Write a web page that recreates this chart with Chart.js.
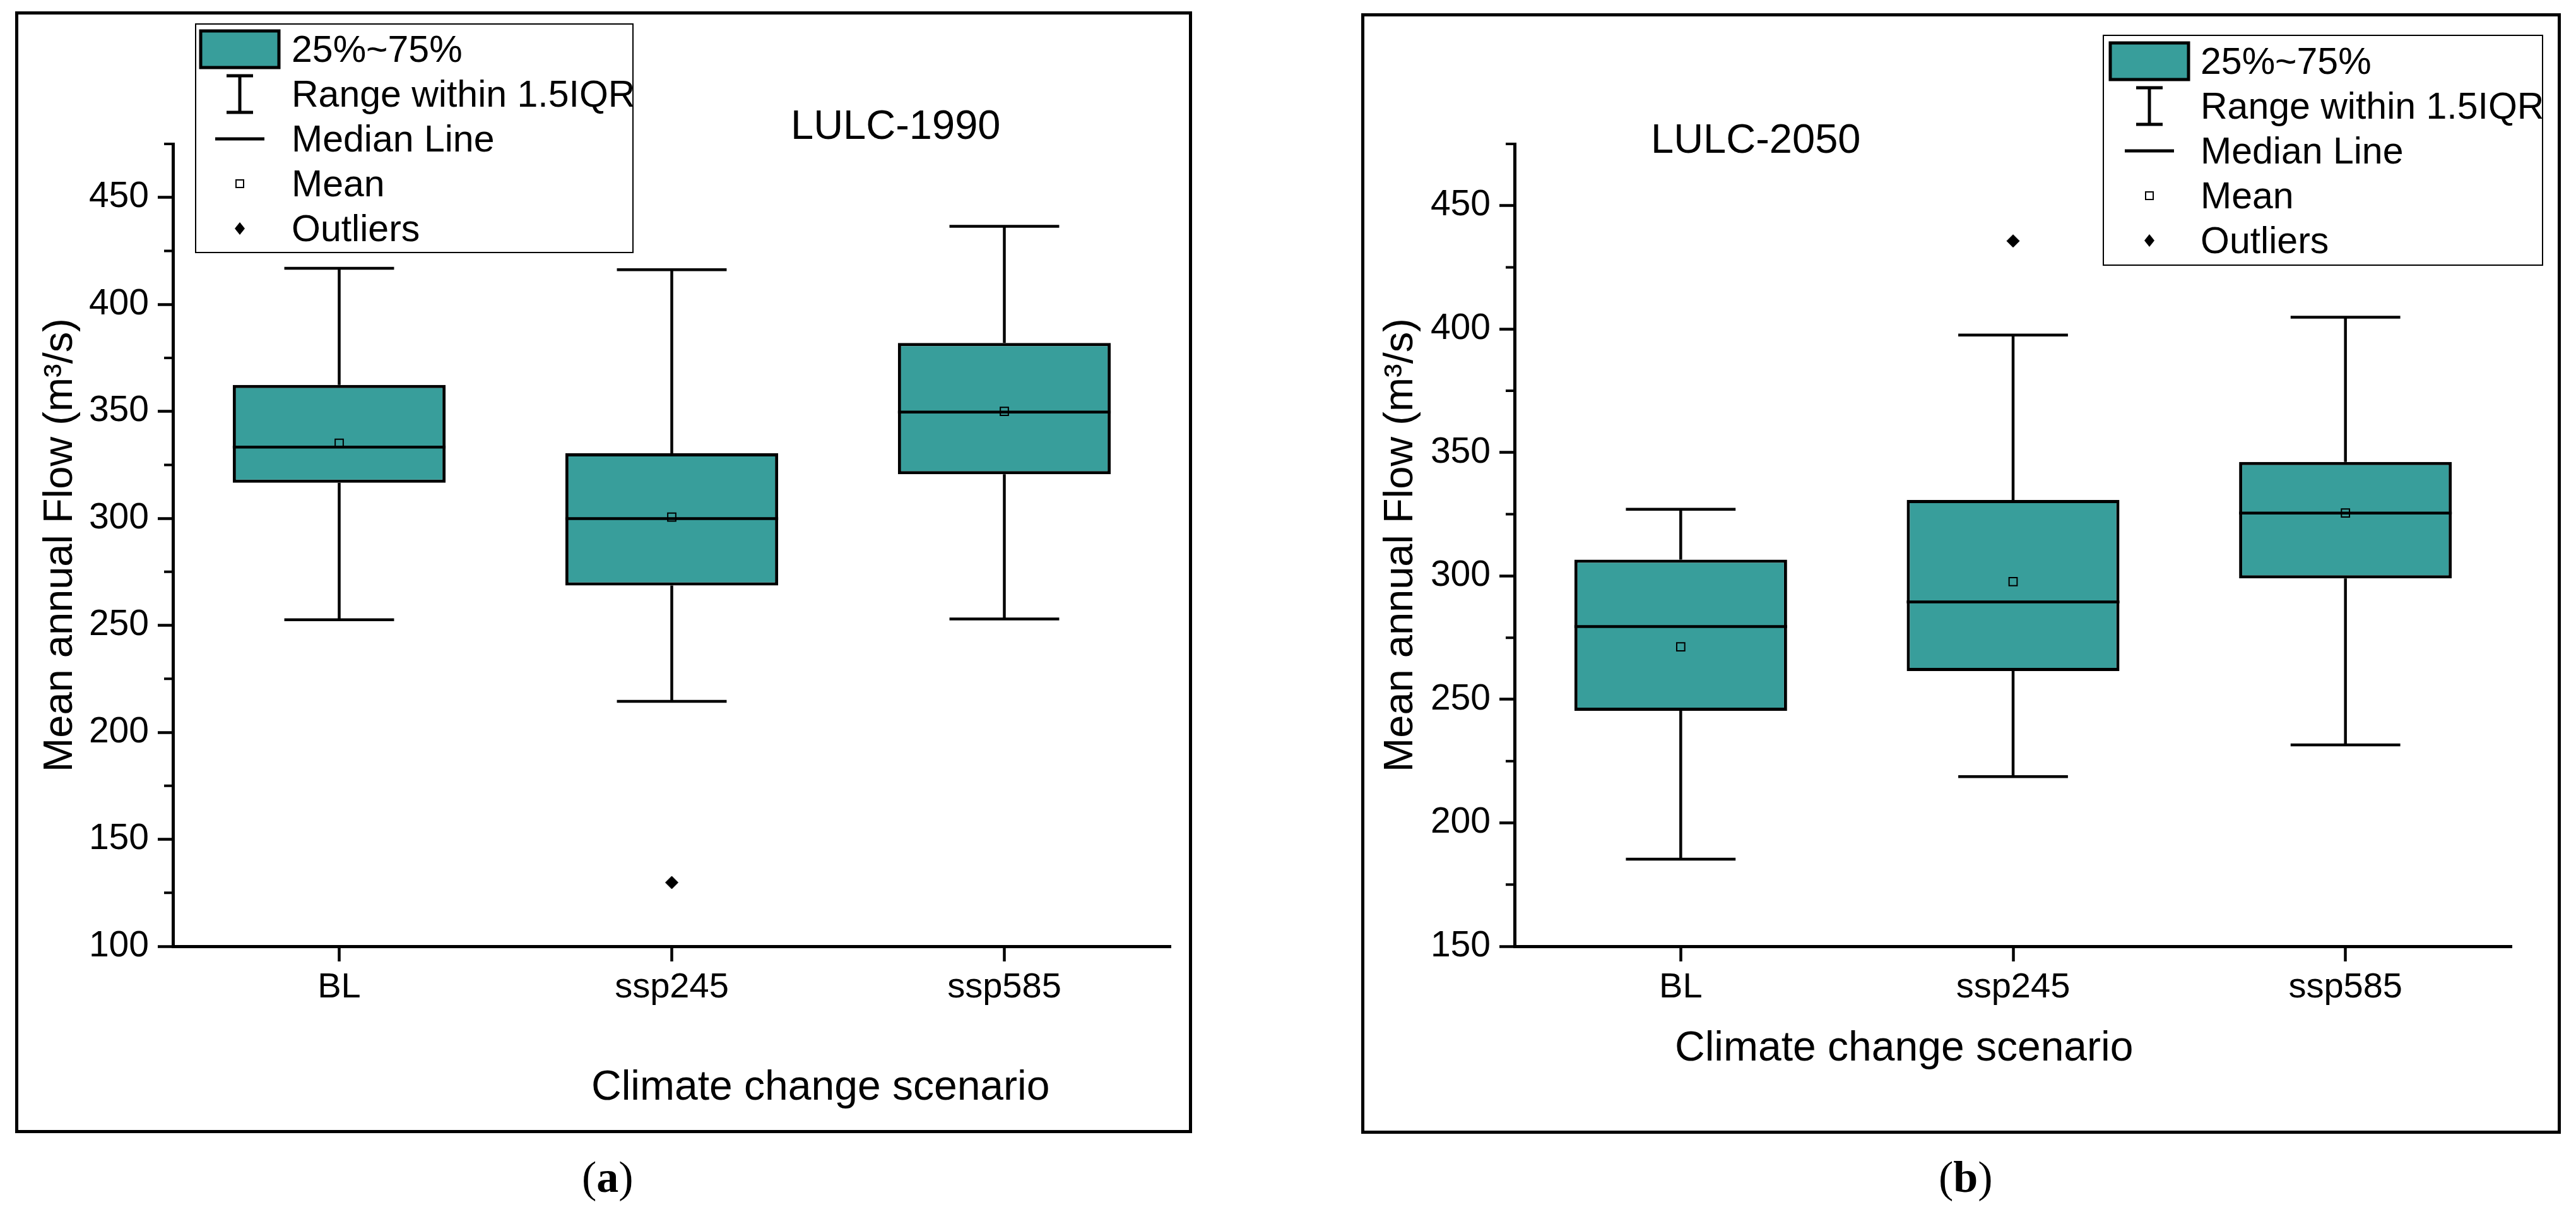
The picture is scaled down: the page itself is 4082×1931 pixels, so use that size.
<!DOCTYPE html>
<html>
<head>
<meta charset="utf-8">
<script src="https://cdn.jsdelivr.net/npm/chart.js@4.4.1/dist/chart.umd.min.js"></script>
<style>
  body { margin: 0; width: 4082px; height: 1931px; background: #fff; position: relative; overflow: hidden;
         font-family: 'Liberation Sans', Arial, sans-serif; color: #000; }
  .frame { position: absolute; border: 5px solid #000; box-sizing: border-box; }
  .holder { position: absolute; }
  .txt { position: absolute; white-space: nowrap; line-height: 1; }
  .legend { position: absolute; border: 2px solid #000; background: #fff; box-sizing: border-box; z-index: 2; }
  .legend svg { position: absolute; left: -2px; top: -2px; }
  .legend span { position: absolute; font-size: 59px; line-height: 59px; white-space: nowrap; }
  .cap { font-family: 'Liberation Serif', 'Times New Roman', serif; font-size: 70px; }
</style>
</head>
<body>
<div class="frame" style="left:24px;top:18px;width:1865px;height:1777px;"></div>
<div class="holder" style="left:28px;top:22px;width:1856px;height:1768px;"><canvas id="chart1990"></canvas></div>
<div class="frame" style="left:2157px;top:21px;width:1901px;height:1775px;"></div>
<div class="holder" style="left:2161px;top:25px;width:1892px;height:1766px;"><canvas id="chart2050"></canvas></div>

<div class="txt" style="left:1253px;top:165px;font-size:65px;">LULC-1990</div>
<div class="txt" style="left:2616px;top:187px;font-size:65px;">LULC-2050</div>
<div class="txt" style="left:937px;top:1686px;font-size:66px;">Climate change scenario</div>
<div class="txt" style="left:2654px;top:1624px;font-size:66px;">Climate change scenario</div>
<div class="txt cap" style="left:922px;top:1830px;">(<b>a</b>)</div>
<div class="txt cap" style="left:3072px;top:1830px;">(<b>b</b>)</div>

<script>
'use strict';

const categories = ['BL', 'ssp245', 'ssp585'];
const teal = '#389e9b';

// LULC-1990
const low1990 = [252.6, 214.5, 253.0];
const q1_1990 = [316.6, 268.6, 320.6];
const median1990 = [333.3, 299.9, 349.7];
const mean1990 = [335.1, 300.6, 350.0];
const q3_1990 = [362.4, 330.4, 382.0];
const high1990 = [416.9, 416.2, 436.5];
const outliers1990 = [null, 129.8, null];
const majorTicks1990 = [100, 150, 200, 250, 300, 350, 400, 450];
const minorTicks1990 = [125, 175, 225, 275, 325, 375, 425, 475];

// LULC-2050
const low2050 = [185.3, 218.7, 231.6];
const q1_2050 = [245.4, 261.5, 299.0];
const median2050 = [279.5, 289.5, 325.5];
const mean2050 = [271.3, 297.7, 325.5];
const q3_2050 = [306.6, 330.8, 346.2];
const high2050 = [327.0, 397.6, 404.8];
const outliers2050 = [null, 435.7, null];
const majorTicks2050 = [150, 200, 250, 300, 350, 400, 450];
const minorTicks2050 = [175, 225, 275, 325, 375, 425, 475];

const legendItems = ['25%~75%', 'Range within 1.5IQR', 'Median Line', 'Mean', 'Outliers'];

Chart.defaults.color = '#000';
Chart.defaults.font.family = "'Liberation Sans', Arial, sans-serif";

// whiskers, caps and median lines, drawn right after the boxes
const boxParts = {
  id: 'boxParts',
  afterDatasetDraw(chart, args, opts) {
    if (args.index !== 0) return;
    const { ctx, scales: { x, y } } = chart;
    const unit = x.getPixelForValue(1) - x.getPixelForValue(0);
    const halfBox = unit * 0.32;
    const halfCap = unit * 0.165;
    ctx.save();
    ctx.strokeStyle = '#000';
    ctx.lineWidth = 4.5;
    opts.median.forEach((m, i) => {
      const cx = x.getPixelForValue(i);
      const hi = y.getPixelForValue(opts.high[i]);
      const lo = y.getPixelForValue(opts.low[i]);
      ctx.beginPath();
      ctx.moveTo(cx, y.getPixelForValue(opts.q3[i]));
      ctx.lineTo(cx, hi);
      ctx.moveTo(cx, y.getPixelForValue(opts.q1[i]));
      ctx.lineTo(cx, lo);
      ctx.moveTo(cx - halfCap, hi);
      ctx.lineTo(cx + halfCap, hi);
      ctx.moveTo(cx - halfCap, lo);
      ctx.lineTo(cx + halfCap, lo);
      ctx.moveTo(cx - halfBox, y.getPixelForValue(m));
      ctx.lineTo(cx + halfBox, y.getPixelForValue(m));
      ctx.stroke();
    });
    ctx.restore();
  },
  afterDraw(chart, args, opts) {
    const { ctx, scales: { y } } = chart;
    ctx.save();
    ctx.strokeStyle = '#000';
    ctx.lineWidth = 4;
    ctx.beginPath();
    opts.minor.forEach(v => {
      const py = y.getPixelForValue(v);
      ctx.moveTo(y.right, py);
      ctx.lineTo(y.right - 14, py);
    });
    ctx.stroke();
    ctx.restore();
  },
};

const makeChart = (canvasId, s) => {
  const data = {
    labels: categories,
    datasets: [
      {
        type: 'bar',
        label: '25%~75%',
        data: s.q1.map((v, i) => [v, s.q3[i]]),
        backgroundColor: teal,
        borderColor: '#000',
        borderWidth: 5,
        borderSkipped: false,
        barPercentage: 0.64,
        categoryPercentage: 1,
        grouped: false,
        order: 3,
      },
      {
        type: 'line',
        label: 'Outliers',
        data: s.outliers,
        showLine: false,
        pointStyle: 'rectRot',
        pointRadius: 10,
        pointBackgroundColor: '#000',
        pointBorderColor: '#000',
        pointBorderWidth: 1,
        order: 2,
      },
      {
        type: 'line',
        label: 'Mean',
        data: s.mean,
        showLine: false,
        pointStyle: 'rect',
        pointRadius: 9,
        pointBackgroundColor: 'rgba(0,0,0,0)',
        pointBorderColor: '#000',
        pointBorderWidth: 2,
        order: 1,
      },
    ],
  };

  const options = {
    responsive: true,
    maintainAspectRatio: false,
    animation: false,
    events: [],
    layout: { padding: s.padding },
    scales: {
      x: {
        type: 'category',
        offset: true,
        grid: { offset: false, drawOnChartArea: false, tickLength: 24, tickWidth: 4.5, tickColor: '#000' },
        border: { color: '#000', width: 5 },
        ticks: { font: { size: 56 }, padding: 8, maxRotation: 0 },
        afterFit: scale => { scale.height = 140; },
      },
      y: {
        min: s.min,
        max: s.max,
        afterBuildTicks: scale => { scale.ticks = s.major.map(v => ({ value: v })); },
        grid: { drawOnChartArea: false, tickLength: 24, tickWidth: 4.5, tickColor: '#000' },
        border: { color: '#000', width: 5 },
        ticks: { font: { size: 57 }, padding: 14 },
        title: { display: true, text: 'Mean annual Flow (m³/s)', font: { size: 65 }, padding: 0 },
        afterFit: scale => { scale.width = s.yWidth; },
      },
    },
    plugins: {
      legend: { display: false },
      tooltip: { enabled: false },
      boxParts: {
        q1: s.q1, q3: s.q3, median: s.median, low: s.low, high: s.high, minor: s.minor,
      },
    },
  };

  return new Chart(document.getElementById(canvasId), { data, options, plugins: [boxParts] });
};

makeChart('chart1990', {
  q1: q1_1990, q3: q3_1990, median: median1990, mean: mean1990,
  low: low1990, high: high1990, outliers: outliers1990,
  min: 100, max: 475, major: majorTicks1990, minor: minorTicks1990,
  yWidth: 217,
  padding: { left: 29, top: 206, right: 29, bottom: 151 },
});

makeChart('chart2050', {
  q1: q1_2050, q3: q3_2050, median: median2050, mean: mean2050,
  low: low2050, high: high2050, outliers: outliers2050,
  min: 150, max: 475, major: majorTicks2050, minor: minorTicks2050,
  yWidth: 219,
  padding: { left: 20, top: 203, right: 73, bottom: 152 },
});

// legend boxes, with small svg keys
const svgNS = 'http://www.w3.org/2000/svg';
const addLegend = (left, top, width, height, iconX, textX, rowTop, pitch) => {
  const box = document.createElement('div');
  box.className = 'legend';
  Object.assign(box.style, { left: `${left}px`, top: `${top}px`, width: `${width}px`, height: `${height}px` });
  const svg = document.createElementNS(svgNS, 'svg');
  svg.setAttribute('width', 160);
  svg.setAttribute('height', height);
  const rows = legendItems.map((_, i) => rowTop + pitch * i);
  const shape = (tag, attrs) => {
    const el = document.createElementNS(svgNS, tag);
    Object.entries(attrs).forEach(([k, v]) => el.setAttribute(k, v));
    svg.appendChild(el);
  };
  shape('rect', { x: iconX - 62, y: rows[0] - 29, width: 124, height: 58, fill: teal, stroke: '#000', 'stroke-width': 5 });
  shape('path', {
    d: `M${iconX} ${rows[1] - 29}V${rows[1] + 29}M${iconX - 21} ${rows[1] - 29}H${iconX + 21}M${iconX - 21} ${rows[1] + 29}H${iconX + 21}`,
    stroke: '#000', 'stroke-width': 5, fill: 'none',
  });
  shape('path', { d: `M${iconX - 39} ${rows[2]}H${iconX + 39}`, stroke: '#000', 'stroke-width': 5 });
  shape('rect', { x: iconX - 6, y: rows[3] - 6, width: 12, height: 12, fill: '#fff', stroke: '#000', 'stroke-width': 2 });
  shape('path', { d: `M${iconX} ${rows[4] - 10}L${iconX + 8} ${rows[4]}L${iconX} ${rows[4] + 10}L${iconX - 8} ${rows[4]}Z`, fill: '#000' });
  box.appendChild(svg);
  legendItems.forEach((text, i) => {
    const span = document.createElement('span');
    span.textContent = text;
    span.style.left = `${textX - 2}px`;
    span.style.top = `${rows[i] - 29 - 2}px`;
    box.appendChild(span);
  });
  document.body.appendChild(box);
};

addLegend(309, 37, 695, 364, 71, 153, 41, 71);
addLegend(3332, 55, 698, 366, 74, 155, 42, 71);
</script>
</body>
</html>
